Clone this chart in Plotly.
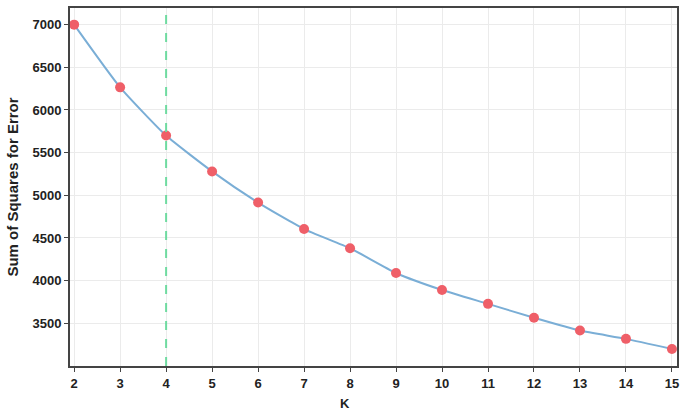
import plotly.graph_objects as go

k_values = [2, 3, 4, 5, 6, 7, 8, 9, 10, 11, 12, 13, 14, 15]
sse_values = [7000, 6265, 5700, 5280, 4915, 4605, 4380, 4090, 3890, 3728, 3565, 3415, 3318, 3200]
elbow_k = 4
x_ticks = list(range(2, 16))
y_ticks = [3500, 4000, 4500, 5000, 5500, 6000, 6500, 7000]

fig = go.Figure()
fig.add_trace(go.Scatter(
    x=k_values, y=sse_values, mode="lines+markers",
    line=dict(color="#7aaed6", width=2, shape="spline", smoothing=0.5),
    marker=dict(color="#ef5f68", size=10),
    showlegend=False,
))
fig.add_vline(x=elbow_k, line=dict(color="#6fdba0", width=2, dash="dash"))

font_family = "Liberation Sans, Arial, sans-serif"
fig.update_layout(
    width=685, height=410,
    margin=dict(l=70, r=8, t=6, b=44),
    plot_bgcolor="white", paper_bgcolor="white",
    font=dict(family=font_family, size=13, color="#222"),
    xaxis=dict(
        range=[1.91, 15.11], tickvals=x_ticks, showgrid=True, gridcolor="#ebebeb",
        showline=True, linecolor="#444", linewidth=2, mirror=True,
        ticks="outside", ticklen=4, tickcolor="#444", zeroline=False,
        tickfont=dict(family=font_family, size=13, color="#222", weight="bold"),
    ),
    yaxis=dict(
        range=[3000, 7195], tickvals=y_ticks, showgrid=True, gridcolor="#ebebeb",
        showline=True, linecolor="#444", linewidth=2, mirror=True,
        ticks="outside", ticklen=4, tickcolor="#444", zeroline=False,
        tickfont=dict(family=font_family, size=13, color="#222", weight="bold"),
        title=dict(text="Sum of Squares for Error", standoff=10,
                   font=dict(family=font_family, size=15, color="#222", weight="bold")),
    ),
    annotations=[dict(
        text="K", x=0.453, y=-0.078, xref="paper", yref="paper",
        showarrow=False, yanchor="top",
        font=dict(family=font_family, size=13, color="#222", weight="bold"),
    )],
)
fig.write_html("out.html", config={"displayModeBar": False},
               post_script="document.body.style.margin='0';document.body.style.overflow='hidden';")
